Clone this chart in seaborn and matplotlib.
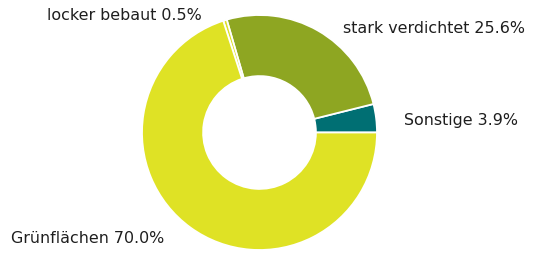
import matplotlib
matplotlib.use('Agg')
import matplotlib.pyplot as plt
import seaborn as sns
import numpy as np

# Flächennutzung (Anteile in %), gegen den Uhrzeigersinn ab 0°
labels = ['Sonstige', 'stark verdichtet', 'locker bebaut', 'Grünflächen']
values = [3.9, 25.6, 0.5, 70.0]
colors = ['#006f73', '#8ea622', '#dde028', '#dfe225']

# label anchors in units of the outer radius (x, y, ha)
label_pos = [(1.23, 0.11, 'left'), (0.71, 0.89, 'left'),
             (-0.49, 1.0, 'right'), (-0.81, -0.89, 'right')]

sns.set_theme(style='white')
plt.rcParams['font.family'] = ['DejaVu Sans']

W, H, DPI = 533, 255, 100
cx, cy, R = 259.5, 133.5, 117.5

fig = plt.figure(figsize=(W / DPI, H / DPI), dpi=DPI)
ax = fig.add_axes([0, 0, 1, 1])
ax.pie(values, colors=colors, startangle=0, counterclock=True, radius=1.0,
       wedgeprops=dict(width=0.52, edgecolor='white', linewidth=1.3))

for lab, val, (x, y, ha) in zip(labels, values, label_pos):
    ax.text(x, y, f'{lab} {val:.1f}%', ha=ha, va='center', fontsize=11.4, color='#1e1e1e')

ax.set_xlim(-cx / R, (W - cx) / R)
ax.set_ylim(-(H - cy) / R, cy / R)
ax.set_aspect('equal')
ax.axis('off')

fig.savefig('out.png', dpi=DPI, facecolor='white')
